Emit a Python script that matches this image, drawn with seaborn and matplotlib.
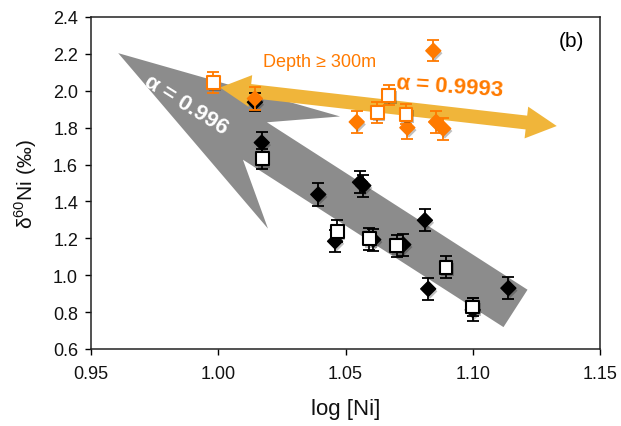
import numpy as np
import matplotlib
matplotlib.use("Agg")
import matplotlib.pyplot as plt
import matplotlib.patheffects as pe
from matplotlib.patches import Polygon
import seaborn as sns

# Nickel isotopes versus log nickel concentration
black_diamond_x = [1.0144, 1.0171, 1.0393, 1.0459, 1.0557, 1.0570, 1.0609, 1.0727, 1.0812, 1.0825, 1.1000, 1.1140]
black_diamond_y = [1.938, 1.719, 1.438, 1.184, 1.504, 1.486, 1.193, 1.166, 1.298, 0.926, 0.812, 0.930]
black_diamond_err = [0.05, 0.06, 0.06, 0.06, 0.06, 0.06, 0.06, 0.06, 0.06, 0.06, 0.062, 0.06]

black_square_x = [1.0173, 1.0468, 1.0594, 1.0701, 1.0895, 1.1000]
black_square_y = [1.632, 1.238, 1.197, 1.160, 1.044, 0.828]
black_square_err = [0.055, 0.06, 0.06, 0.06, 0.06, 0.047]

orange_diamond_x = [1.0144, 1.0544, 1.0743, 1.0845, 1.0856, 1.0884]
orange_diamond_y = [1.958, 1.831, 1.800, 2.217, 1.831, 1.795]
orange_diamond_err = [0.06, 0.06, 0.06, 0.056, 0.06, 0.06]

orange_square_x = [0.9981, 1.0625, 1.0670, 1.0738]
orange_square_y = [2.045, 1.882, 1.976, 1.873]
orange_square_err = [0.055, 0.055, 0.055, 0.055]

x_ticks = [0.95, 1.00, 1.05, 1.10, 1.15]
y_ticks = [0.6, 0.8, 1.0, 1.2, 1.4, 1.6, 1.8, 2.0, 2.2, 2.4]

# trend arrows: tip and tail in data units
deep_tip, deep_tail = (0.9607, 2.204), (1.1168, 0.820)
surf_left, surf_right = (1.0007, 2.0177), (1.1330, 1.809)

ORANGE = "#FF7A00"
GRAY = "#8C8C8C"
GOLD = "#F0B53A"

sns.set_theme(style="ticks")
plt.rcParams["font.family"] = ["Liberation Sans", "DejaVu Sans"]
plt.rcParams["mathtext.fontset"] = "custom"
plt.rcParams["mathtext.rm"] = "Liberation Sans"

fig = plt.figure(figsize=(6.21, 4.27), dpi=100)
ax = fig.add_axes([91 / 621, 77 / 427, 509 / 621, 332 / 427])
ax.set_xlim(0.95, 1.15)
ax.set_ylim(0.6, 2.4)


def arrow_patch(tip, tail, outline, **kw):
    """Build an arrow outline given (along, across) offsets in points from the tip."""
    t = ax.transData
    p0 = np.asarray(t.transform(tip))
    p1 = np.asarray(t.transform(tail))
    d = p1 - p0
    length = np.hypot(*d) * 72 / fig.dpi
    u = d / np.hypot(*d)
    n = np.array([-u[1], u[0]])
    k = fig.dpi / 72
    verts = [p0 + u * a(length) * k + n * b * k for a, b in outline]
    return Polygon(t.inverted().transform(verts), closed=True, **kw)


const = lambda v: (lambda L: v)
from_tail = lambda v: (lambda L: L - v)

deep_outline = [
    (const(0), 0), (const(159), -48), (const(117), -16), (from_tail(0), -16),
    (from_tail(0), 16), (const(117), 16), (const(159), 48),
]
ax.add_patch(arrow_patch(deep_tip, deep_tail, deep_outline,
                         facecolor=GRAY, edgecolor="none", zorder=1))

surf_outline = [
    (const(0), 0), (const(22), 11.5), (const(22), 5), (from_tail(22), 5),
    (from_tail(22), 11.5), (from_tail(0), 0), (from_tail(22), -11.5),
    (from_tail(22), -5), (const(22), -5), (const(22), -11.5),
]
ax.add_patch(arrow_patch(surf_left, surf_right, surf_outline,
                         facecolor=GOLD, edgecolor="none", zorder=2))

shadow = [pe.SimplePatchShadow(offset=(1.2, -1.8), shadow_rgbFace="k", alpha=0.28), pe.Normal()]

groups = [
    (black_diamond_x, black_diamond_y, black_diamond_err, "D", "black", "black", 58, 1.0),
    (black_square_x, black_square_y, black_square_err, "s", "white", "black", 85, 1.5),
    (orange_diamond_x, orange_diamond_y, orange_diamond_err, "D", ORANGE, ORANGE, 58, 1.0),
    (orange_square_x, orange_square_y, orange_square_err, "s", "white", ORANGE, 85, 1.5),
]
for i, (gx, gy, ge, mk, face, edge, size, lw) in enumerate(groups):
    ax.errorbar(gx, gy, yerr=ge, fmt="none", ecolor=edge, elinewidth=1.3,
                capsize=4.5, capthick=1.3, zorder=4 + 2 * i)
    pts = sns.scatterplot(x=gx, y=gy, marker=mk, s=size, color=face,
                          edgecolor=edge, linewidth=lw, ax=ax, zorder=5 + 2 * i)
    pts.collections[-1].set_path_effects(shadow)

ax.text(0.9873, 1.927, "α = 0.996", color="white", fontsize=16, fontweight="bold",
        rotation=-32, ha="center", va="center", rotation_mode="anchor", zorder=3)
ax.text(1.0911, 2.025, "α = 0.9993", color=ORANGE, fontsize=16, fontweight="bold",
        rotation=-4, ha="center", va="center", rotation_mode="anchor", zorder=3)
ax.text(1.0398, 2.161, "Depth ≥ 300m", color=ORANGE, fontsize=13,
        ha="center", va="center", zorder=3)
ax.text(1.1389, 2.271, "(b)", color="black", fontsize=15, ha="center", va="center")

ax.set_xticks(x_ticks)
ax.set_xticklabels([f"{v:.2f}" for v in x_ticks])
ax.set_yticks(y_ticks)
ax.set_yticklabels([f"{v:.1f}" for v in y_ticks])
ax.tick_params(axis="both", direction="out", length=4.3, width=1, color="black",
               labelsize=13, labelcolor="#111111")
ax.tick_params(axis="x", pad=7)
ax.tick_params(axis="y", pad=5)
for side in ["left", "bottom", "top", "right"]:
    ax.spines[side].set_visible(True)
    ax.spines[side].set_color("#222222")
    ax.spines[side].set_linewidth(1.1)

ax.set_xlabel("log [Ni]", fontsize=16, labelpad=12, color="#111111")
ax.set_ylabel(r"δ$^{\mathrm{60}}$Ni (‰)", fontsize=15, labelpad=10, color="#111111")

fig.savefig("out.png", dpi=100)
